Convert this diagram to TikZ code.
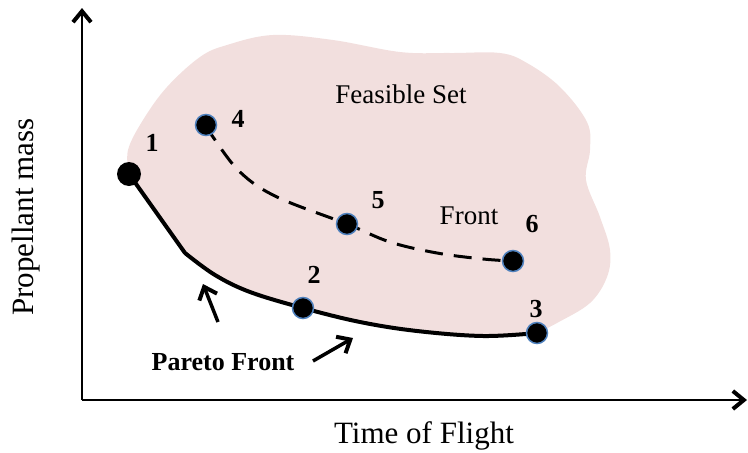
\documentclass[tikz,border=0pt]{standalone}
\usepackage{fontspec}
\setmainfont{Liberation Serif}
\usetikzlibrary{arrows.meta}
\definecolor{feas}{RGB}{242,223,222}
\definecolor{ringblue}{RGB}{79,129,189}
\begin{document}
\begin{tikzpicture}[x=1pt,y=-1pt,
  axis/.style={line width=2pt,-{Straight Barb[length=11pt,width=18pt,line width=4pt]}},
  dotb/.style={circle,fill=black,draw=ringblue,line width=1.5pt,inner sep=0pt,minimum size=21pt},
  dotk/.style={circle,fill=black,inner sep=0pt,minimum size=24pt},
  num/.style={font=\fontsize{26}{30}\selectfont\bfseries,anchor=base},
  lab/.style={font=\fontsize{27}{32}\selectfont,anchor=base},
  axlab/.style={font=\fontsize{31}{36}\selectfont,anchor=base},
  pointer/.style={line width=3.5pt,-{Straight Barb[length=11pt,width=19pt,line width=4pt]}},
  pareto/.style={line width=4pt,line join=round},
  dfront/.style={line width=3pt,dash pattern=on 18pt off 11pt},
]
\useasboundingbox (0,0) rectangle (748,453);
% point positions
\coordinate (c1) at (129,174);
\coordinate (c2) at (303,308);
\coordinate (c3) at (537,333);
\coordinate (c4) at (206,125);
\coordinate (c5) at (347,224);
\coordinate (c6) at (513,261);
\coordinate (elbow) at (185,253);
% feasible set
\fill[feas] (c1) -- (elbow)
  -- plot[smooth,tension=0.6] coordinates {(elbow) (215,275) (250,292) (c2) (360,322) (417,331) (483,336) (c3)}
  -- plot[smooth,tension=0.6] coordinates {(c3) (557,323) (590,303) (607,277) (610,250) (600,217) (586,180) (590,150) (587,122) (560,87) (527,63) (500,53) (450,53) (400,52) (333,40) (273,35) (227,45) (200,57) (167,87) (143,120) (128,150) (c1)}
  -- cycle;
% axes
\coordinate (origin) at (82,400);
\coordinate (ytip) at (82,8);
\coordinate (xtip) at (747,400);
\draw[axis] (origin) -- (ytip);
\draw[axis] (origin) -- (xtip);
% pareto front
\draw[pareto] (c1) -- (elbow)
  plot[smooth,tension=0.6] coordinates {(elbow) (215,275) (250,292) (c2) (360,322) (417,331) (483,336) (c3)};
% dashed front
\draw[dfront] plot[smooth,tension=0.6] coordinates {(c4) (213,137) (240,172) (277,197) (c5) (390,242) (437,253) (483,259) (c6)};
% dots
\node[dotk] (p1) at (c1) {};
\node[dotb] (p2) at (c2) {};
\node[dotb] (p3) at (c3) {};
\node[dotb] (p4) at (c4) {};
\node[dotb] (p5) at (c5) {};
\node[dotb] (p6) at (c6) {};
% numbers
\node[num] (n1) at (152,151) {1};
\node[num] (n2) at (314,283) {2};
\node[num] (n3) at (536,317) {3};
\node[num] (n4) at (238,127) {4};
\node[num] (n5) at (378,208) {5};
\node[num] (n6) at (532,232) {6};
% texts
\node[lab] (feasible) at (401,103) {Feasible Set};
\node[lab] (front) at (469,224) {Front};
\node[lab,font=\fontsize{26}{30}\selectfont\bfseries] (pf) at (223,370) {Pareto Front};
\node[axlab] (xlab) at (424,443) {Time of Flight};
\node[axlab,rotate=90] (ylab) at (34,217) {Propellant mass};
% pointers
\coordinate (a1s) at (218,322);
\coordinate (a1e) at (203,284);
\coordinate (a2s) at (313,361);
\coordinate (a2e) at (353,338);
\draw[pointer] (a1s) -- (a1e);
\draw[pointer] (a2s) -- (a2e);
\end{tikzpicture}
\end{document}
